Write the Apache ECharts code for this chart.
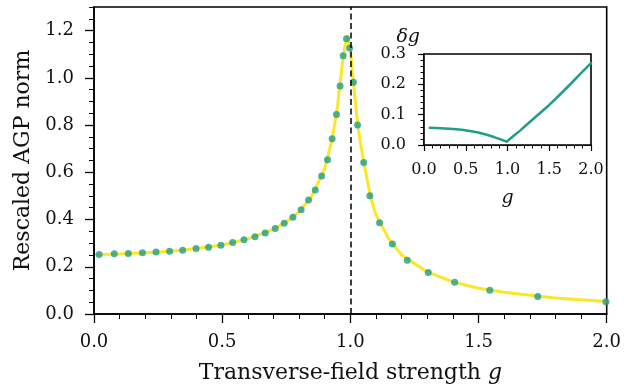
<!DOCTYPE html>
<html>
<head>
<meta charset="utf-8">
<script src="https://cdn.jsdelivr.net/npm/echarts@6/dist/echarts.min.js"></script>
<style>
html,body{margin:0;padding:0;background:#fff;}
#chart{width:624px;height:389px;}
</style>
</head>
<body>
<div id="chart"></div>
<script>
// Main panel: numerical points (dots)
const dotG = [0.020,0.079,0.134,0.189,0.242,0.295,0.346,0.398,0.447,0.495,0.541,0.585,0.628,0.668,0.707,0.742,0.776,0.808,0.837,0.863,0.888,0.911,0.929,0.946,0.960,0.972,0.985,0.997,1.012,1.028,1.052,1.076,1.114,1.164,1.222,1.304,1.407,1.544,1.731,1.997];
const dotV = [0.252,0.255,0.256,0.259,0.263,0.266,0.270,0.277,0.283,0.291,0.303,0.314,0.327,0.343,0.362,0.384,0.410,0.441,0.483,0.525,0.584,0.653,0.742,0.845,0.966,1.094,1.166,1.126,0.981,0.800,0.642,0.501,0.386,0.296,0.228,0.176,0.134,0.101,0.074,0.052];
// Main panel: analytic curve (yellow)
const lineG = [0.005,0.1,0.2,0.3,0.4,0.5,0.6,0.7,0.75,0.8,0.85,0.9,0.93,0.95,0.97,0.98,0.99,1.0,1.01,1.03,1.05,1.08,1.1,1.15,1.2,1.3,1.4,1.5,1.6,1.7,1.8,1.9,2.0];
const lineV = [0.251,0.254,0.259,0.266,0.277,0.292,0.318,0.358,0.390,0.432,0.500,0.615,0.745,0.880,1.070,1.140,1.180,1.120,1.000,0.790,0.655,0.490,0.420,0.318,0.250,0.178,0.136,0.109,0.092,0.079,0.068,0.060,0.053];
// Inset: delta g
const insetG = [0.07,0.2,0.35,0.45,0.55,0.65,0.75,0.83,0.9,0.95,0.99,1.06,1.14,1.26,1.38,1.5,1.62,1.74,1.86,2.0];
const insetV = [0.057,0.055,0.053,0.050,0.046,0.041,0.034,0.027,0.020,0.015,0.011,0.027,0.045,0.074,0.103,0.132,0.164,0.197,0.231,0.270];
// Tick labels
const mainYTicks = [0,0.2,0.4,0.6,0.8,1.0,1.2];
const xTicks = [0,0.5,1.0,1.5,2.0];
const critical = 1.0;

const FONT = 'DejaVu Serif';
const TXT = '#111';
const TEAL = '#1f9e89';
const YELLOW = '#fde725';
const zip = (a,b) => a.map((v,i)=>[v,b[i]]);
const fmt = v => Number(v).toFixed(1);

const chart = echarts.init(document.getElementById('chart'), null, {renderer:'canvas'});
chart.setOption({
  animation:false,
  backgroundColor:'#fff',
  grid:[
    {left:94, top:7, right:14, bottom:75, show:true, borderColor:'#000', borderWidth:1.6, backgroundColor:'transparent'},
    {left:424, top:54, width:167, height:91, show:true, borderColor:'#000', borderWidth:1.6, backgroundColor:'#fff', z:10}
  ],
  xAxis:[
    {gridIndex:0, type:'value', min:0, max:2, interval:0.5,
     axisLine:{show:true, onZero:false, lineStyle:{color:'#000', width:1.6}},
     axisTick:{show:true, length:9, lineStyle:{color:'#000', width:1.3}},
     minorTick:{show:true, splitNumber:5, length:5, lineStyle:{color:'#000', width:1}},
     splitLine:{show:false},
     axisLabel:{formatter:fmt, fontFamily:FONT, fontSize:18, color:TXT, margin:19},
     name:'Transverse-field strength {i|g}', nameLocation:'middle', nameGap:48,
     nameTextStyle:{fontFamily:FONT, fontSize:22, color:TXT,
       rich:{i:{fontFamily:FONT, fontSize:22, fontStyle:'italic', color:TXT}}}
    },
    {gridIndex:1, type:'value', min:0, max:2, interval:0.5,
     axisLine:{show:true, onZero:false, lineStyle:{color:'#000', width:1.6}},
     axisTick:{show:true, length:6, lineStyle:{color:'#000', width:1.2}},
     minorTick:{show:true, splitNumber:5, length:3.5, lineStyle:{color:'#000', width:1}},
     splitLine:{show:false},
     axisLabel:{formatter:fmt, fontFamily:FONT, fontSize:16, color:TXT, margin:17},
     name:'{i|g}', nameLocation:'middle', nameGap:44,
     nameTextStyle:{rich:{i:{fontFamily:FONT, fontSize:19, fontStyle:'italic', color:TXT}}}
    }
  ],
  yAxis:[
    {gridIndex:0, type:'value', min:0, max:1.3, interval:0.05, position:'left',
     axisLine:{show:true, onZero:false, lineStyle:{color:'#000', width:1.6}},
     axisTick:{show:true, length:5, lineStyle:{color:'#000', width:1}},
     axisLabel:{show:false}, splitLine:{show:false}
    },
    {gridIndex:0, type:'value', min:0, max:1.3, interval:0.2, position:'left', offset:0,
     axisLine:{show:false},
     axisTick:{show:true, length:9, customValues:mainYTicks, lineStyle:{color:'#000', width:1.3}},
     axisLabel:{customValues:mainYTicks, formatter:fmt, fontFamily:FONT, fontSize:18, color:TXT, margin:20},
     splitLine:{show:false},
     name:'Rescaled AGP norm', nameLocation:'middle', nameGap:56,
     nameTextStyle:{fontFamily:FONT, fontSize:22, color:TXT}
    },
    {gridIndex:1, type:'value', min:0, max:0.3, interval:0.1,
     axisLine:{show:true, onZero:false, lineStyle:{color:'#000', width:1.6}},
     axisTick:{show:true, length:6, lineStyle:{color:'#000', width:1.2}},
     minorTick:{show:true, splitNumber:5, length:3.5, lineStyle:{color:'#000', width:1}},
     splitLine:{show:false},
     axisLabel:{formatter:fmt, fontFamily:FONT, fontSize:16, color:TXT, margin:18},
     name:'{i|δg}', nameLocation:'end', nameGap:6,
     nameTextStyle:{align:'right', padding:[0,4,0,0], rich:{i:{fontFamily:FONT, fontSize:19, fontStyle:'italic', color:TXT}}}
    }
  ],
  series:[
    {type:'line', xAxisIndex:0, yAxisIndex:0, data:zip(lineG,lineV), showSymbol:false, symbol:'none',
     lineStyle:{color:YELLOW, width:3}, z:2,
     markLine:{silent:true, symbol:['none','none'], label:{show:false},
       lineStyle:{color:'#000', type:[6,3.5], width:1.5},
       data:[{xAxis:critical}]}
    },
    {type:'scatter', xAxisIndex:0, yAxisIndex:0, data:zip(dotG,dotV), symbol:'circle', symbolSize:7,
     itemStyle:{color:TEAL}, z:3},
    {type:'line', xAxisIndex:1, yAxisIndex:2, data:zip(insetG,insetV), showSymbol:false, symbol:'none',
     lineStyle:{color:TEAL, width:2.5, join:'round', cap:'round'}, z:12}
  ]
});
</script>
</body>
</html>
